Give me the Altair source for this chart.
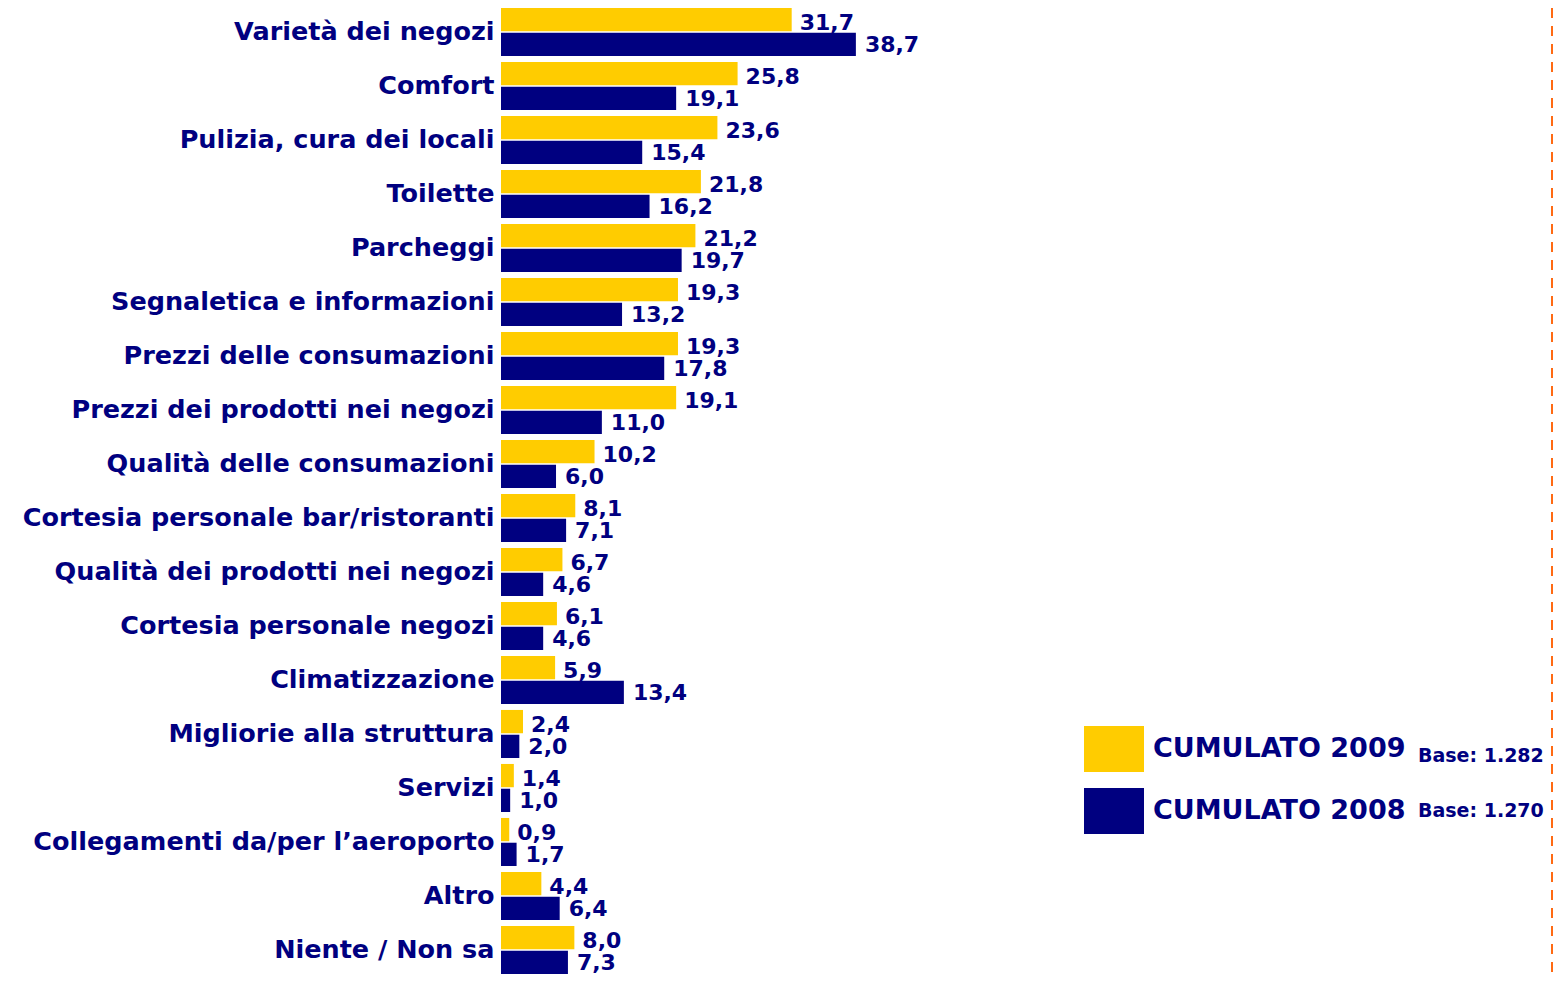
import altair as alt
import pandas as pd

categories = ["Varietà dei negozi", "Comfort", "Pulizia, cura dei locali", "Toilette",
              "Parcheggi", "Segnaletica e informazioni", "Prezzi delle consumazioni",
              "Prezzi dei prodotti nei negozi", "Qualità delle consumazioni",
              "Cortesia personale bar/ristoranti", "Qualità dei prodotti nei negozi",
              "Cortesia personale negozi", "Climatizzazione", "Migliorie alla struttura",
              "Servizi", "Collegamenti da/per l’aeroporto", "Altro", "Niente / Non sa"]
v2009 = [31.7, 25.8, 23.6, 21.8, 21.2, 19.3, 19.3, 19.1, 10.2, 8.1, 6.7, 6.1, 5.9, 2.4, 1.4, 0.9, 4.4, 8.0]
v2008 = [38.7, 19.1, 15.4, 16.2, 19.7, 13.2, 17.8, 11.0, 6.0, 7.1, 4.6, 4.6, 13.4, 2.0, 1.0, 1.7, 6.4, 7.3]
series = ["CUMULATO 2009", "CUMULATO 2008"]
bases = ["Base: 1.282", "Base: 1.270"]
colors = ["#FFCC00", "#000080"]

rows = []
for c, a, b in zip(categories, v2009, v2008):
    rows.append({"cat": c, "series": series[0], "value": a, "label": f"{a:.1f}".replace(".", ",")})
    rows.append({"cat": c, "series": series[1], "value": b, "label": f"{b:.1f}".replace(".", ",")})
df = pd.DataFrame(rows)

NAVY = "#000080"
FONT = "DejaVu Sans"
W, H = 1052, 966

y_enc = alt.Y("cat:N", sort=categories,
              scale=alt.Scale(paddingInner=0.11, paddingOuter=0),
              axis=alt.Axis(title=None, domain=False, ticks=False, grid=False, labelFontSize=25.5,
                            labelFontWeight="bold", labelColor=NAVY, labelFont=FONT,
                            labelPadding=7, labelLimit=0))
yoff = alt.YOffset("series:N", sort=series, scale=alt.Scale(paddingInner=0.06))
x_enc = alt.X("value:Q", scale=alt.Scale(domain=[0, W / 9.17], nice=False, zero=True), axis=None)

bars = alt.Chart(df).mark_bar().encode(
    y=y_enc, yOffset=yoff, x=x_enc,
    color=alt.Color("series:N", sort=series,
                    scale=alt.Scale(domain=series, range=colors),
                    legend=alt.Legend(title=None, orient="none", legendX=583, legendY=711,
                                      symbolType="M-1,-0.77H1V0.77H-1Z", symbolSize=3600,
                                      symbolStrokeWidth=0, symbolOpacity=1,
                                      labelFontSize=27, labelFontWeight="bold",
                                      labelColor=NAVY, labelFont=FONT, labelOffset=9,
                                      rowPadding=8, padding=0, labelLimit=0))
)

df09 = df[df["series"] == series[0]]
df08 = df[df["series"] == series[1]]
labels09 = alt.Chart(df09).mark_text(align="left", baseline="middle", dx=8, dy=3,
                                     fontSize=22, fontWeight="bold", color=NAVY, font=FONT).encode(
    y=alt.Y("cat:N", sort=categories), yOffset=yoff, x=x_enc, text="label:N"
)
labels08 = alt.Chart(df08).mark_text(align="left", baseline="middle", dx=9, dy=1,
                                     fontSize=22, fontWeight="bold", color=NAVY, font=FONT).encode(
    y=alt.Y("cat:N", sort=categories), yOffset=yoff, x=x_enc, text="label:N"
)

base_df = pd.DataFrame({"series": series, "base": bases})
base1 = alt.Chart(base_df.iloc[[0]]).mark_text(align="left", baseline="middle", fontSize=19,
                                               fontWeight="bold", color=NAVY, font=FONT).encode(
    x=alt.value(917), y=alt.value(748), text="base:N")
base2 = alt.Chart(base_df.iloc[[1]]).mark_text(align="left", baseline="middle", fontSize=19,
                                               fontWeight="bold", color=NAVY, font=FONT).encode(
    x=alt.value(917), y=alt.value(803), text="base:N")

rule = alt.Chart(base_df.iloc[[0]]).mark_rule(color="#FF6A13", strokeWidth=2,
                                              strokeDash=[10, 8]).encode(
    x=alt.value(W - 1), y=alt.value(0), y2=alt.value(H))

chart = alt.layer(bars, labels09, labels08, base1, base2, rule).properties(
    width=W, height=H, background="white",
    autosize=alt.AutoSizeParams(type="none"),
    padding={"left": 493, "top": 0, "right": 0, "bottom": 0},
).configure_view(stroke=None, strokeWidth=0
).configure_axis(grid=False, domain=False)

chart.save("out.html", embed_options={"renderer": "svg", "actions": False})
